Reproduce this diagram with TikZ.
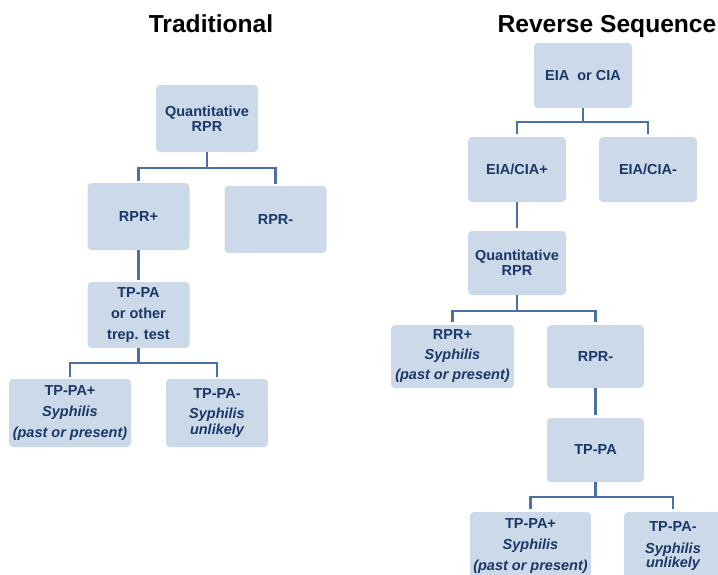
\documentclass[tikz,border=0pt]{standalone}
\usepackage{fontspec}
\setmainfont{Liberation Sans}
\usepackage{xcolor}
\usetikzlibrary{positioning,calc}
\definecolor{boxfill}{HTML}{CCD9E8}
\definecolor{boxtext}{HTML}{1B3768}
\definecolor{linkblue}{HTML}{4A70A6}

\begin{document}
\begin{tikzpicture}[
  x=1pt,y=-1pt,
  % --- shared look of the two testing trees ---
  box/.style   ={fill=boxfill,rounded corners=4pt,align=center,inner sep=0pt,
                 text=boxtext,font=\fontsize{14.5}{21}\selectfont\bfseries,
                 minimum width=102pt,minimum height=67pt},
  widebox/.style={box,minimum width=122pt},
  link/.style  ={draw=linkblue,line width=2.9pt},
  ttl/.style   ={font=\fontsize{24.6}{28}\selectfont\bfseries,anchor=base,inner sep=0pt},
]
\useasboundingbox (0,0) rectangle (718,574);
\clip (0,0) rectangle (718,574);

% ============================ titles ============================
\node[ttl] (tradttl) at (211,32) {Traditional};
\node[ttl] (revttl)  at (607,32) {Reverse Sequence};

% ======================= traditional algorithm ==================
\node[box] (qrpr1)  at (207,118.5) {Quantitative\\[-6pt]RPR};
\node[box] (rprp1)  at (138.5,216.5) {RPR+};
\node[box] (rprm1)  at (275.5,219.5) {RPR-};
\node[box,minimum height=66pt] (tppa1) at (138.5,315) {TP-PA\\or other\\trep. test};
\node[widebox,minimum height=68pt] (tpp1) at (70,413)
  {TP-PA+\\{\itshape Syphilis}\\{\itshape (past or present)}};
\node[box,minimum height=68pt] (tpm1) at (217,413)
  {TP-PA-\\[-1pt]{\itshape Syphilis}\\[-5pt]{\itshape unlikely}};

% ===================== reverse sequence algorithm ===============
\node[box,minimum width=98pt,minimum height=65pt] (eia)  at (583,75.5) {EIA\ \ or CIA};
\node[box,minimum width=98pt,minimum height=65pt] (eiap) at (517,169.5) {EIA/CIA+};
\node[box,minimum width=98pt,minimum height=65pt] (eiam) at (648,169.5) {EIA/CIA-};
\node[box,minimum width=98pt,minimum height=64pt] (qrpr2) at (517,263) {Quantitative\\[-6pt]RPR};
\node[widebox,minimum width=123pt,minimum height=63pt] (rprp2) at (452.5,356.5)
  {RPR+\\[-1pt]{\itshape Syphilis}\\[-1pt]{\itshape (past or present)}};
\node[box,minimum width=97pt,minimum height=63pt] (rprm2) at (595.5,356.5) {RPR-};
\node[box,minimum width=97pt,minimum height=64pt] (tppa2) at (595.5,450) {TP-PA};
\node[widebox,minimum width=121pt,minimum height=68pt] (tpp2) at (530.5,546)
  {TP-PA+\\{\itshape Syphilis}\\{\itshape (past or present)}};
\node[box,minimum width=98pt,minimum height=68pt] (tpm2) at (673,546)
  {TP-PA-\\[1pt]{\itshape Syphilis}\\[-7pt]{\itshape unlikely}};

% ========================= connectors ===========================
% bus lines sit a little below each parent box
\coordinate (qrpr1j) at (qrpr1.south |- 0,168);
\draw[link] (qrpr1.south) -- (qrpr1j);
\draw[link] ($(rprp1.north)+(0,-2)$) |- (qrpr1j) -| ($(rprm1.north)+(0,-2)$);
\draw[link] (rprp1.south) -- ($(tppa1.north)+(0,-2)$);
\coordinate (tppa1j) at (tppa1.south |- 0,363);
\draw[link] (tppa1.south) -- (tppa1j);
\draw[link] ($(tpp1.north)+(0,-2)$) |- (tppa1j) -| ($(tpm1.north)+(0,-2)$);

\coordinate (eiaj) at (eia.south |- 0,122);
\draw[link] (eia.south) -- (eiaj);
\draw[link] ($(eiap.north)+(0,-3)$) |- (eiaj) -| ($(eiam.north)+(0,-3)$);
\draw[link] (eiap.south) -- ($(qrpr2.north)+(0,-3)$);
\coordinate (qrpr2j) at (qrpr2.south |- 0,311);
\draw[link] (qrpr2.south) -- (qrpr2j);
\draw[link] ($(rprp2.north)+(0,-3)$) |- (qrpr2j) -| ($(rprm2.north)+(0,-3)$);
\draw[link] (rprm2.south) -- ($(tppa2.north)+(0,-3)$);
\coordinate (tppa2j) at (tppa2.south |- 0,497);
\draw[link] (tppa2.south) -- (tppa2j);
\draw[link] ($(tpp2.north)+(0,-3)$) |- (tppa2j) -| ($(tpm2.north)+(0,-3)$);

\end{tikzpicture}
\end{document}
